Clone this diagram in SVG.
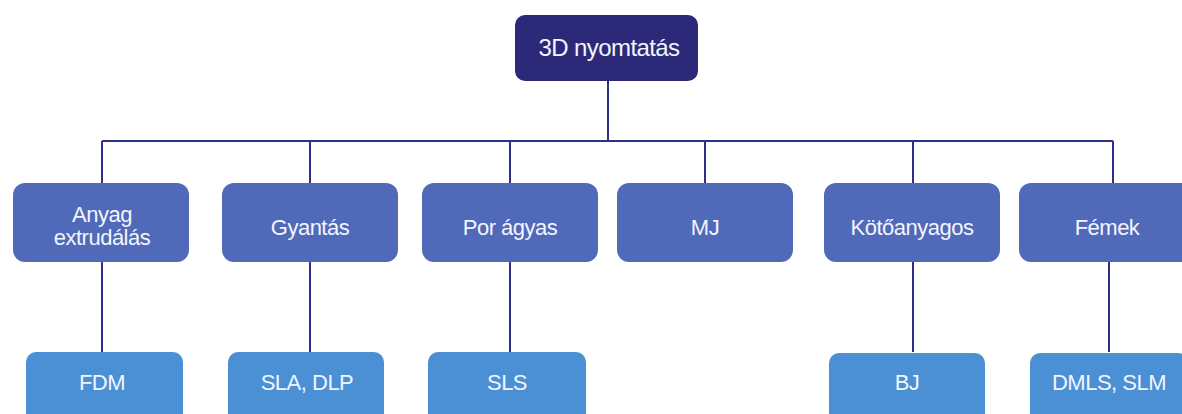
<svg xmlns="http://www.w3.org/2000/svg" width="1182" height="414" viewBox="0 0 1182 414">
<style>
.top{fill:#2c2a78}
.mid{fill:#5169b9}
.bot{fill:#4b8fd5}
.t{font-family:"Liberation Sans",Arial,sans-serif;fill:#f2f5ff;text-anchor:middle;font-size:22px;letter-spacing:-0.5px}
.tt{font-size:24px;letter-spacing:-0.6px}
.ln{stroke:#2d2f8a;stroke-width:2;fill:none}
</style>
<rect width="1182" height="414" fill="#ffffff"/>
<g id="connectors">
<path class="ln" d="M608 81V141M102 141H1113M102 141V184M310 141V184M510 141V184M705 141V184M913 141V184M1113 141V184"/>
<path class="ln" d="M102 262V352M310 262V352M510 262V352M913 262V352M1109 262V352"/>
</g>
<g id="n-root"><rect class="top" x="515" y="15" width="183" height="66" rx="10"/><text class="t tt" x="609" y="56">3D nyomtatás</text></g>
<g id="n-anyag"><rect class="mid" x="13" y="183" width="176" height="79" rx="12"/><text class="t" x="102" y="222">Anyag</text><text class="t" x="102" y="245">extrudálás</text></g>
<g id="n-gyantas"><rect class="mid" x="222" y="183" width="176" height="79" rx="12"/><text class="t" x="310" y="235">Gyantás</text></g>
<g id="n-por"><rect class="mid" x="422" y="183" width="176" height="79" rx="12"/><text class="t" x="510" y="235">Por ágyas</text></g>
<g id="n-mj"><rect class="mid" x="617" y="183" width="176" height="79" rx="12"/><text class="t" x="705" y="235">MJ</text></g>
<g id="n-koto"><rect class="mid" x="824" y="183" width="176" height="79" rx="12"/><text class="t" x="912" y="235">Kötőanyagos</text></g>
<g id="n-femek"><rect class="mid" x="1019" y="183" width="176" height="79" rx="12"/><text class="t" x="1107" y="235">Fémek</text></g>
<g id="n-fdm"><rect class="bot" x="26" y="352" width="157" height="80" rx="10"/><text class="t" x="102" y="390">FDM</text></g>
<g id="n-sla"><rect class="bot" x="228" y="352" width="156" height="80" rx="10"/><text class="t" x="307" y="390">SLA, DLP</text></g>
<g id="n-sls"><rect class="bot" x="428" y="352" width="158" height="80" rx="10"/><text class="t" x="507" y="390">SLS</text></g>
<g id="n-bj"><rect class="bot" x="829" y="353" width="156" height="80" rx="10"/><text class="t" x="907" y="390">BJ</text></g>
<g id="n-dmls"><rect class="bot" x="1030" y="353" width="158" height="80" rx="10"/><text class="t" x="1109" y="390">DMLS, SLM</text></g>
</svg>
